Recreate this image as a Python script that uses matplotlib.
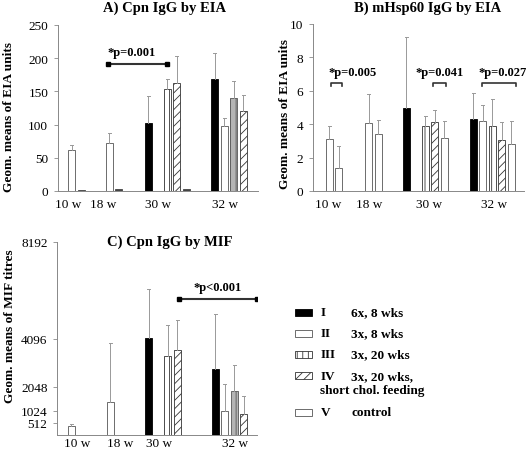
import numpy as np
import matplotlib.pyplot as plt
from matplotlib.patches import Rectangle

plt.rcParams['font.family'] = 'Liberation Serif'
plt.rcParams['hatch.linewidth'] = 0.6

groups = ['10 w', '18 w', '30 w', '32 w']

# panel A: Cpn IgG by EIA
a_group = [0, 0, 1, 1, 2, 2, 2, 2, 3, 3, 3, 3]
a_slot = [1, 2, 1, 2, 0, 2, 3, 4, 0, 1, 2, 3]
a_style = ['II', 'small', 'II', 'small', 'I', 'III', 'IV', 'small', 'I', 'II', 'III_grey', 'IV']
a_val = [61, 2, 73, 3, 102, 153, 163, 3, 168, 98, 140, 121]
a_top = [70, 0, 88, 0, 143, 168, 203, 0, 208, 110, 165, 144]

# panel B: mHsp60 IgG by EIA
b_group = [0, 0, 1, 1, 2, 2, 2, 2, 3, 3, 3, 3, 3]
b_slot = [1, 2, 1, 2, 0, 2, 3, 4, 0, 1, 2, 3, 4]
b_style = ['II', 'V', 'II', 'V', 'I', 'III', 'IV', 'V', 'I', 'II', 'III', 'IV', 'V']
b_val = [3.1, 1.4, 4.1, 3.4, 4.95, 3.9, 4.15, 3.2, 4.3, 4.2, 3.9, 3.05, 2.8]
b_top = [3.9, 2.7, 5.8, 4.25, 9.25, 4.5, 4.85, 4.2, 5.85, 5.15, 5.5, 4.15, 4.2]

# panel C: Cpn IgG by MIF
c_group = [0, 1, 2, 2, 2, 3, 3, 3, 3]
c_slot = [0, 0, 0, 2, 3, 0, 1, 2, 3]
c_style = ['II', 'II', 'I', 'III', 'IV', 'I', 'II', 'III_grey', 'IV']
c_val = [370, 1420, 4110, 3370, 3610, 2810, 1020, 1870, 890]
c_top = [455, 3910, 6210, 4680, 4890, 5150, 2180, 2990, 1660]
c_ticks = [512, 1024, 2048, 4096, 8192]

legend_keys = ['I', 'II', 'III', 'IV', 'V']
legend_text = ['6x, 8 wks', '3x, 8 wks', '3x, 20 wks', '3x, 20 wks,', 'control']

SLOT = 9.5
BW = 7
EC = '#555555'


def bar_kw(s):
    if s == 'I':
        return dict(color='black', edgecolor='black', lw=0.6)
    if s == 'III':
        return dict(color='white', edgecolor='#333333', hatch='|||', lw=0.6)
    if s == 'III_grey':
        return dict(color='#b4b4b4', edgecolor='#555555', hatch='|||', lw=0.6)
    if s == 'IV':
        return dict(color='white', edgecolor='#333333', hatch='////', lw=0.6)
    if s == 'small':
        return dict(color='#444444', edgecolor='#444444', lw=0.6)
    return dict(color='white', edgecolor=EC, lw=0.6)


def panel(ax, grp, slot, sty, val, top, base, labx, width, xpad=5):
    x = np.array([base[g] for g in grp]) + np.array(slot) * SLOT
    for xi, s, v, t in zip(x, sty, val, top):
        ax.bar(xi, v, width=BW, **bar_kw(s))
        if t > v:
            ax.plot([xi, xi], [v, t], color='#999999', lw=0.7)
            ax.plot([xi - 1.5, xi + 1.5], [t, t], color='#999999', lw=0.7)
    ax.set_xlim(0, width)
    ax.set_xticks(labx)
    ax.set_xticklabels(groups)
    ax.tick_params(axis='x', length=0, labelsize=9.5, pad=xpad)
    ax.tick_params(axis='y', length=3, width=0.6, color='#888888', labelsize=9.5, pad=4)
    for sp in ['top', 'right']:
        ax.spines[sp].set_visible(False)
    for sp in ['left', 'bottom']:
        ax.spines[sp].set_color('#888888')
        ax.spines[sp].set_linewidth(0.7)


def bracket(ax, x0, x1, y, text, ty, legs=0.0):
    if legs:
        ax.plot([x0, x0, x1, x1], [y - legs, y, y, y - legs], color='#333333', lw=1.2)
    else:
        ax.plot([x0, x1], [y, y], color='#333333', lw=1.5)
        ax.plot([x0, x1], [y, y], 's', color='black', ms=2.5)
    ax.text(ty[0], ty[1], text, ha='center', va='center', fontsize=9, fontweight='bold')


fig = plt.figure(figsize=(5.28, 4.52), dpi=100)

axA = fig.add_axes([58 / 528, 1 - 192 / 452, 200 / 528, 166 / 452])
panel(axA, a_group, a_slot, a_style, a_val, a_top, [4, 41.5, 90, 156.5], [10, 45, 100, 167], 200)
axA.set_ylim(0, 250)
axA.set_yticks([0, 50, 100, 150, 200, 250])
bracket(axA, 50, 109, 191, '*p=0.001', (74, 210))
axA.set_ylabel('Geom. means of EIA units', fontsize=9.6, fontweight='bold')
axA.yaxis.set_label_coords(-0.215, 0.45)
fig.text(165 / 528, 1 - 8 / 452, 'A) Cpn IgG by EIA', ha='center', va='center',
         fontsize=10.5, fontweight='bold')

axB = fig.add_axes([313 / 528, 1 - 192 / 452, 211 / 528, 167 / 452])
panel(axB, b_group, b_slot, b_style, b_val, b_top, [6.5, 46, 93, 160], [15, 56, 116, 181], 211)
axB.set_ylim(0, 10)
axB.set_yticks([0, 2, 4, 6, 8, 10])
bracket(axB, 18, 29, 6.45, '*p=0.005', (40, 7.15), legs=0.18)
bracket(axB, 120, 133, 6.45, '*p=0.041', (127, 7.15), legs=0.18)
bracket(axB, 169, 203, 6.45, '*p=0.027', (189.5, 7.15), legs=0.18)
axB.set_ylabel('Geom. means of EIA units', fontsize=9.6, fontweight='bold')
axB.yaxis.set_label_coords(-0.104, 0.47)
fig.text(428 / 528, 1 - 8 / 452, 'B) mHsp60 IgG by EIA', ha='center', va='center',
         fontsize=10.5, fontweight='bold')

axC = fig.add_axes([57.3 / 528, 1 - 436 / 452, 200 / 528, 193 / 452])
panel(axC, c_group, c_slot, c_style, c_val, c_top, [13.7, 52.7, 91.4, 157.7],
      [19.5, 62.5, 101.5, 178], 200, xpad=1.5)
axC.set_ylim(0, 8192)
axC.set_yticks(c_ticks)
bracket(axC, 122, 200, 5790, '*p<0.001', (160, 6300))
axC.set_ylabel('Geom. means of MIF titres', fontsize=9.6, fontweight='bold')
axC.yaxis.set_label_coords(-0.206, 0.57)
fig.text(170 / 528, 1 - 242 / 452, 'C) Cpn IgG by MIF', ha='center', va='center',
         fontsize=10.5, fontweight='bold')

# legend drawn by hand
rows = [313.3, 334, 355, 376.7, 413.3]
for k, txt, yp in zip(legend_keys, legend_text, rows):
    kw = bar_kw(k)
    fc = kw.pop('color')
    kw.pop('lw')
    fig.patches.append(Rectangle((295 / 528, 1 - (yp + 3.5) / 452), 17 / 528, 7 / 452,
                                 facecolor=fc, lw=0.6, transform=fig.transFigure, **kw))
    fig.text(321 / 528, 1 - yp / 452, k, ha='left', va='center', fontsize=9.5, fontweight='bold')
    fig.text(351 / 528, 1 - yp / 452, txt, ha='left', va='center', fontsize=9.5, fontweight='bold')
fig.text(320 / 528, 1 - 391 / 452, 'short chol. feeding', ha='left', va='center',
         fontsize=9.5, fontweight='bold')

fig.savefig('out.png', dpi=100)
